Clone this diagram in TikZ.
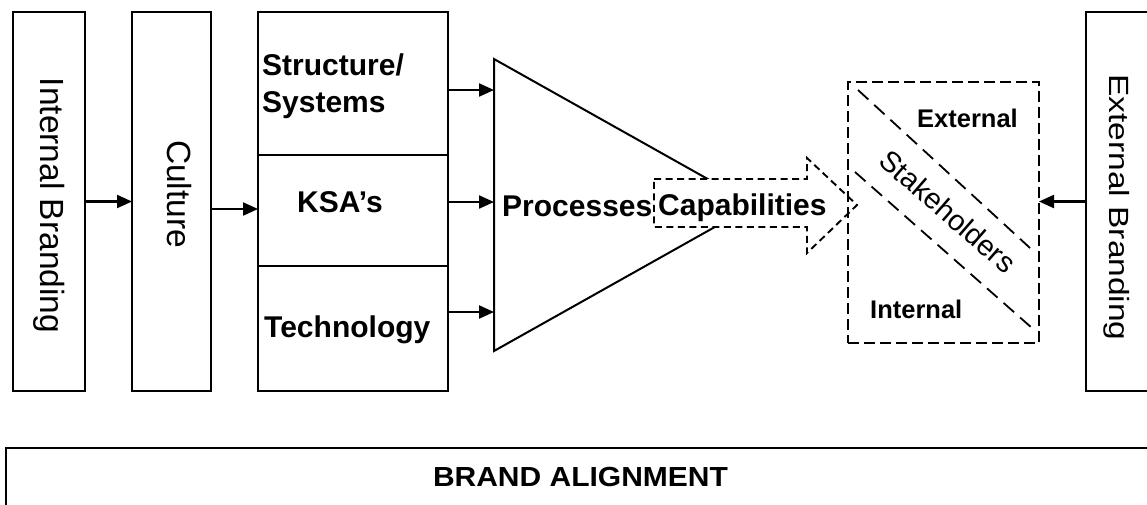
\documentclass[tikz,border=0pt]{standalone}
\usepackage{fontspec}
\setmainfont{Liberation Sans}
\usetikzlibrary{arrows.meta}

\begin{document}
\begin{tikzpicture}[x=1pt, y=-1pt,
  box/.style={draw, line width=2.2pt, inner sep=0pt, outer sep=0pt, anchor=north west},
  dbox/.style={box, line width=2pt, dash pattern=on 11pt off 5pt},
  conn/.style={line width=2.2pt, -{Triangle[length=15pt, width=13pt]}},
  diag/.style={line width=1.8pt, dash pattern=on 14pt off 8pt},
  vlabel/.style={rotate=-90, anchor=base, inner sep=0pt, font=\fontsize{33.5}{40}\selectfont},
  blabel/.style={anchor=base west, inner sep=0pt, font=\bfseries\fontsize{30}{36}\selectfont},
  slabel/.style={anchor=base west, inner sep=0pt, font=\bfseries\fontsize{25.5}{30}\selectfont}]

\useasboundingbox (0,0) rectangle (1147,504);
\clip (0,0) rectangle (1147,504);

% left column boxes
\node[box, minimum width=72pt, minimum height=379pt] (ib) at (13,12) {};
\node[box, minimum width=79pt, minimum height=379pt] (cul) at (132,12) {};
\node[box, minimum width=190pt, minimum height=143pt] (sec1) at (258,12) {};
\node[box, minimum width=190pt, minimum height=111pt] (sec2) at (258,155) {};
\node[box, minimum width=190pt, minimum height=125pt] (sec3) at (258,266) {};

% right column box (runs past the edge)
\node[box, minimum width=84pt, minimum height=379pt] (ext) at (1086,12) {};

% bottom band (runs past the edges)
\node[box, line width=2.8pt, minimum width=1170pt, minimum height=100pt] (band) at (6,448) {};

% processes funnel
\coordinate (pt) at (494,59);
\coordinate (pb) at (494,351);
\coordinate (pa) at (754,205);
\draw[line width=2pt, line join=miter] (pt) -- (pa) -- (pb) -- cycle;

% capabilities arrow
\coordinate (c1) at (654,179);
\coordinate (c2) at (807,179);
\coordinate (c3) at (807,158);
\coordinate (c4) at (857,205);
\coordinate (c5) at (807,253);
\coordinate (c6) at (807,227);
\coordinate (c7) at (654,227);
\draw[fill=white, line width=1.9pt, dash pattern=on 7pt off 4.5pt]
  (c1) -- (c2) -- (c3) -- (c4) -- (c5) -- (c6) -- (c7) -- cycle;

% stakeholders box
\node[dbox, minimum width=191pt, minimum height=261pt] (stk) at (848,82) {};
\coordinate (d1a) at (858,90);
\coordinate (d1b) at (1030,248);
\coordinate (d2a) at (855,172);
\coordinate (d2b) at (1032,328);
\draw[diag] (d1a) -- (d1b);
\draw[diag] (d2a) -- (d2b);

% connectors
\coordinate (y1) at (0,90);
\coordinate (y2) at (0,202);
\coordinate (y3) at (0,312);
\draw[conn] (ib.east) -- (ib.east -| cul.west);
\draw[conn] ([yshift=-7.5pt]cul.east) -- ([yshift=-7.5pt]cul.east -| sec2.west);
\draw[conn] (sec1.east |- y1) -- (pt |- y1);
\draw[conn] (sec2.east |- y2) -- (pt |- y2);
\draw[conn] (sec3.east |- y3) -- (pt |- y3);
\draw[conn] (ext.west) -- (ext.west -| stk.east);

% labels
\node[vlabel] (tib) at (40,205.5) {Internal Branding};
\node[vlabel] (tcul) at (167,194) {Culture};
\node[vlabel, yscale=0.83] (text) at (1109,207.5) {External Branding};
\node[blabel] (t1) at (262,75) {Structure/};
\node[blabel] (t1b) at (262,112) {Systems};
\node[blabel] (t2) at (297,212) {KSA’s};
\node[blabel] (t3) at (264,337) {Technology};
\node[blabel] (tproc) at (502,216) {Processes};
\node[blabel] (tcap) at (658,215) {Capabilities};
\node[slabel] (tex) at (917,127) {External};
\node[slabel] (tin) at (870,318) {Internal};
\node[rotate=-41, inner sep=0pt, font=\fontsize{29}{33}\selectfont] (tstk) at (948,211.5) {Stakeholders};
\node[inner sep=0pt, anchor=base, yscale=0.92, font=\bfseries\fontsize{30}{36}\selectfont] (tband) at (580.5,486) {BRAND ALIGNMENT};
\end{tikzpicture}
\end{document}
